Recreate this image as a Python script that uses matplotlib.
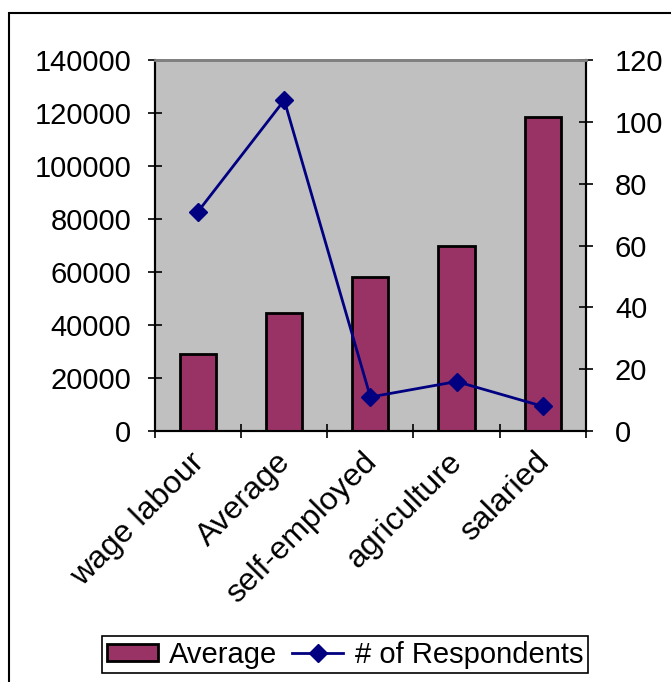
import numpy as np
import matplotlib.pyplot as plt
from matplotlib.patches import Rectangle
from matplotlib.transforms import ScaledTranslation

plt.rcParams['font.family'] = ['Liberation Sans', 'DejaVu Sans']

categories = ['wage labour', 'Average', 'self-employed', 'agriculture', 'salaried']
average = [29000, 44500, 58000, 70000, 118500]
respondents = [71, 107, 11, 16, 8]

bar_color = '#993366'
line_color = '#000080'
fsize = 21

fig = plt.figure(figsize=(6.71, 6.82), dpi=100)
ax = fig.add_axes([0.231, 0.368, 0.642, 0.544])
ax2 = ax.twinx()

x = np.arange(len(categories))
bars = ax.bar(x, average, width=0.42, color=bar_color, edgecolor='black',
              linewidth=2, zorder=3, label='Average')
line, = ax2.plot(x, respondents, color=line_color, lw=2, marker='D',
                 markersize=9, zorder=4, label='# of Respondents')

ax.set_facecolor('#c0c0c0')
ax.set_xlim(-0.5, len(categories) - 0.5)
ax.set_ylim(0, 140000)
ax.set_yticks(np.arange(0, 140001, 20000))
ax2.set_ylim(0, 120)
ax2.set_yticks(np.arange(0, 121, 20))

# tick marks sit on the category boundaries, labels drawn under each bar
ax.set_xticks(np.arange(-0.5, len(categories)))
ax.set_xticklabels([])
ax.tick_params(axis='x', length=10, width=1.2, direction='inout')
lbl_trans = ax.get_xaxis_transform() + ScaledTranslation(-0.09, -0.16, fig.dpi_scale_trans)
for xi, name in zip(x, categories):
    ax.text(xi, 0, name, transform=lbl_trans, rotation=45, ha='right', va='top',
            rotation_mode='anchor', fontsize=23)

ax.tick_params(axis='y', length=10, width=1.2, direction='inout',
               labelsize=fsize, pad=12)
ax2.tick_params(axis='y', length=10, width=1.2, direction='inout',
                labelsize=fsize, pad=16)

for a in (ax, ax2):
    a.spines['top'].set_color('#808080')
    a.spines['top'].set_linewidth(2)
    for s in ('left', 'right', 'bottom'):
        a.spines[s].set_color('black')
        a.spines[s].set_linewidth(1.5)

leg = fig.legend([bars, line], ['Average', '# of Respondents'], loc='center',
                 bbox_to_anchor=(0.514, 0.04), ncol=2, fontsize=fsize,
                 frameon=True, fancybox=False, framealpha=1, edgecolor='black',
                 handlelength=1.75, handleheight=0.55, handletextpad=0.4,
                 columnspacing=0.5, borderpad=0.15, borderaxespad=0)
leg.get_frame().set_linewidth(1.2)

# outer chart frame
fig.patches.append(Rectangle((9 / 671, -0.1), 1.2, 1.1 - 13 / 682,
                             transform=fig.transFigure, fill=False,
                             edgecolor='black', linewidth=1.5))

fig.savefig('out.png', dpi=100)
